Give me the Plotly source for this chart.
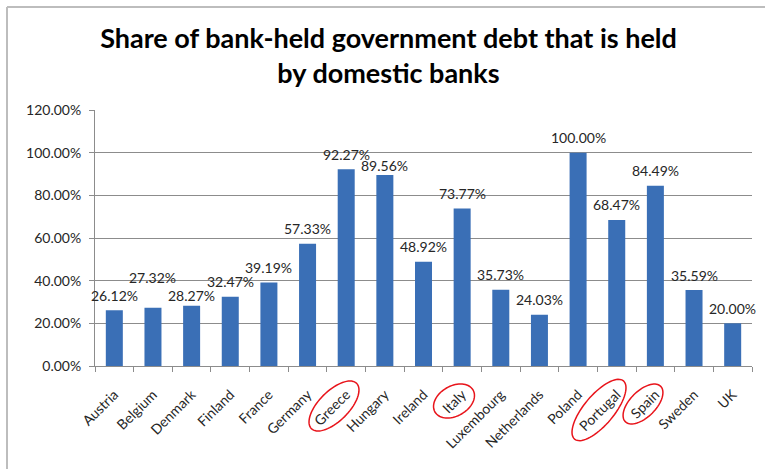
import math
import plotly.graph_objects as go

countries = ["Austria", "Belgium", "Denmark", "Finland", "France", "Germany", "Greece",
             "Hungary", "Ireland", "Italy", "Luxembourg", "Netherlands", "Poland",
             "Portugal", "Spain", "Sweden", "UK"]
shares = [26.12, 27.32, 28.27, 32.47, 39.19, 57.33, 92.27, 89.56, 48.92, 73.77,
          35.73, 24.03, 100.00, 68.47, 84.49, 35.59, 20.00]
y_ticks = [0, 20, 40, 60, 80, 100, 120]
highlighted = ["Greece", "Italy", "Portugal", "Spain"]

# style: pixel lift of each value label above its bar (staggered as in the original)
label_lift = {"Belgium": 30, "Denmark": 10, "Hungary": 9}
default_lift = 15

W, H = 765, 469
L, R, T, B = 95, 13, 110, 103
PW, PH = W - L - R, H - T - B

FONT = "Lato"

fig = go.Figure()
fig.add_trace(go.Bar(
    x=countries,
    y=[v / 100 for v in shares],
    marker=dict(color="#3a6fb6", line=dict(width=0)),
    width=0.44,
    hovertemplate="%{x}: %{y:.2%}<extra></extra>",
))

annotations = []
for c, v in zip(countries, shares):
    annotations.append(dict(
        x=c, y=v / 100, xref="x", yref="y",
        text=f"{v:.2f}%", showarrow=False,
        yanchor="middle", xanchor="center",
        yshift=label_lift.get(c, default_lift),
        font=dict(family=FONT, size=14, color="#262626"),
    ))

# red hand-drawn-style ellipses around highlighted labels (pixel geometry -> paper coords)
ellipse_style = {
    "Greece": (334, 406, 32, 15, 45),
    "Italy": (454, 401, 22, 15, 30),
    "Portugal": (599, 410, 38, 15, 50),
    "Spain": (643, 404, 25, 13, 45),
}
shapes = []
for name in highlighted:
    cx, cy, a, b, ang = ellipse_style[name]
    phi = math.radians(ang)
    ux, uy = math.cos(phi), -math.sin(phi)
    vx, vy = math.sin(phi), math.cos(phi)
    pts = []
    for i in range(73):
        t = 2 * math.pi * i / 72
        px = cx + a * math.cos(t) * ux + b * math.sin(t) * vx
        py = cy + a * math.cos(t) * uy + b * math.sin(t) * vy
        pts.append(((px - L) / PW, (H - B - py) / PH))
    path = "M " + " L ".join(f"{x:.5f},{y:.5f}" for x, y in pts) + " Z"
    shapes.append(dict(type="path", xref="paper", yref="paper", path=path,
                       line=dict(color="#e8141b", width=1.5)))

# outer chart border (top and left edges visible)
bx0 = (7 - L) / PW
by0 = (H - B - 7) / PH
shapes.append(dict(type="line", xref="paper", yref="paper",
                   x0=bx0, y0=by0, x1=(W + 5 - L) / PW, y1=by0,
                   line=dict(color="#bdbdbd", width=2)))
shapes.append(dict(type="line", xref="paper", yref="paper",
                   x0=bx0, y0=by0, x1=bx0, y1=(H - B - H - 5) / PH,
                   line=dict(color="#bdbdbd", width=2)))

fig.update_layout(
    width=W, height=H,
    margin=dict(l=L, r=R, t=T, b=B),
    paper_bgcolor="white",
    plot_bgcolor="white",
    showlegend=False,
    title=dict(
        text="Share of bank-held government debt that is held<br>by domestic banks",
        font=dict(family=FONT, size=27, color="#000000", weight="bold"),
        x=388.5 / W, xanchor="center", xref="container",
        y=1 - 48 / H, yanchor="middle",
    ),
    xaxis=dict(
        type="category",
        tickangle=-45,
        tickfont=dict(family=FONT, size=14, color="#262626"),
        ticklabelstandoff=14,
        showline=True, linecolor="#8c8c8c", linewidth=1,
        ticks="outside", ticklen=5, tickcolor="#8c8c8c",
        tickson="boundaries",
        showgrid=False,
        range=[-0.5, len(countries) - 0.5],
    ),
    yaxis=dict(
        range=[0, 1.2],
        tickvals=[v / 100 for v in y_ticks],
        tickformat=".2%",
        tickfont=dict(family=FONT, size=14, color="#262626"),
        ticklabelstandoff=5,
        showline=True, linecolor="#8c8c8c", linewidth=1,
        ticks="outside", ticklen=5, tickcolor="#8c8c8c",
        showgrid=True, gridcolor="#8c8c8c", gridwidth=1,
        zeroline=False,
    ),
    shapes=shapes,
    annotations=annotations,
)

fig.write_html("out.html")
